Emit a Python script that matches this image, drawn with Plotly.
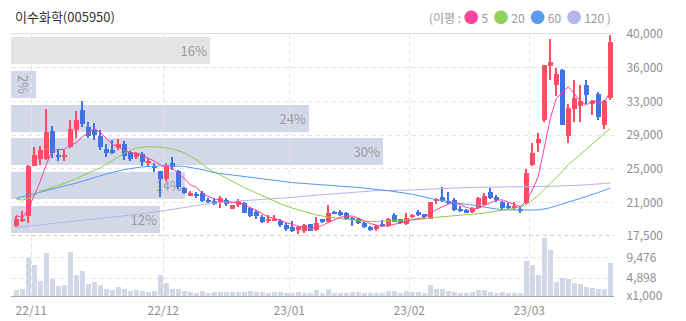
import plotly.graph_objects as go

# ---------------- data ----------------
title_text = "이수화학(005950)"
month_pos = [2.5, 24.5, 45.5, 65.5, 85.5]          # boundary between trading days (index units)
month_labels = ["22/11", "22/12", "23/01", "23/02", "23/03"]

opens = [18650, 19250, 19700, 25350, 26050, 26100, 29250, 26500, 26400, 27400,
         29350, 31500, 29650, 29350, 28650, 27200, 27100, 27300, 27750, 26850,
         26250, 26650, 25650, 25350, 24750, 23850, 25600, 24750, 22850, 22000,
         22150, 22250, 21500, 21450, 21200, 21500, 20550, 20950, 21200, 20650,
         20200, 19650, 19200, 19200, 19150, 18750, 18550, 18250, 18100, 18850,
         18200, 19350, 19100, 20200, 20220, 20050, 19450, 19400, 19000, 18470,
         18250, 18850, 18620, 19850, 19360, 18850, 19600, 20200, 19900, 19450,
         21350, 21900, 21450, 21500, 20400, 20400, 20150, 20600, 21000, 22450,
         21900, 21300, 20850, 20700, 20450, 21150, 25400, 27900, 30450, 36400,
         34350, 36000, 28650, 31700, 32000, 34350, 32250, 33350, 29900, 32900]
highs = [19750, 20300, 25400, 27400, 27500, 31650, 29700, 27200, 27200, 30450,
         31400, 32500, 30250, 30100, 29300, 27700, 28200, 28300, 28100, 27000,
         26850, 26850, 26200, 25600, 24750, 25600, 26250, 24800, 22950, 22550,
         22450, 22550, 21700, 21700, 21950, 21750, 20950, 21600, 21250, 20700,
         20400, 19850, 19850, 19850, 19400, 18900, 19150, 18620, 18850, 18850,
         19600, 19400, 20950, 20330, 20350, 20150, 19650, 19550, 19060, 18620,
         18730, 19300, 19480, 20100, 19450, 20030, 19950, 20350, 20000, 21300,
         21700, 23000, 22400, 21700, 20800, 20500, 20750, 21900, 22300, 22800,
         22100, 21400, 21150, 21300, 20800, 24950, 27850, 29000, 36600, 39400,
         36200, 36100, 32150, 34900, 34350, 34850, 32600, 33500, 32700, 39850]
lows = [18500, 19100, 18900, 25300, 25450, 26000, 26200, 25800, 25900, 27300,
        28400, 29650, 28400, 28200, 27100, 26350, 26600, 27100, 25950, 25900,
        26100, 25250, 25250, 24600, 21900, 23650, 24850, 22750, 22200, 22000,
        21700, 21300, 21150, 20960, 20650, 20850, 20500, 20780, 20030, 19650,
        19400, 18920, 19000, 19200, 18500, 18100, 17950, 17750, 17780, 18050,
        18100, 19000, 19050, 19950, 19700, 19280, 18600, 18850, 18430, 18100,
        18100, 18500, 18550, 19050, 18850, 18730, 19480, 19700, 19450, 19400,
        21100, 21300, 21100, 20300, 20200, 20050, 20100, 20550, 20950, 21650,
        21250, 20550, 20500, 20400, 20050, 21050, 25300, 26900, 30250, 34900,
        33150, 29850, 27850, 30250, 30250, 32150, 31000, 30450, 29400, 32600]
closes = [19400, 19400, 25300, 26550, 27100, 29050, 26700, 26350, 26500, 29400,
          30450, 30000, 28600, 28800, 27450, 26800, 26700, 27750, 26450, 26050,
          26700, 25750, 25800, 25050, 23850, 25250, 25150, 23000, 22300, 22250,
          22050, 21400, 21350, 21070, 21700, 21080, 20900, 21350, 20100, 19750,
          19750, 19100, 19350, 19400, 18750, 18300, 18050, 18450, 18730, 18100,
          19000, 19100, 20050, 20050, 19800, 19400, 19350, 18920, 18480, 18260,
          18620, 18600, 19360, 19100, 18920, 19480, 19850, 19850, 19600, 21250,
          21600, 21450, 21250, 20400, 20300, 20100, 20500, 21700, 22000, 21750,
          21500, 20650, 20600, 20800, 20350, 24500, 26700, 28300, 36500, 36850,
          35600, 29900, 31750, 32900, 32550, 33250, 32550, 30750, 32550, 39100]
volumes = [2140, 2360, 9390, 7750, 4160, 10440, 4610, 3040, 3260, 10670,
           5500, 6400, 3480, 3930, 3260, 2360, 2140, 2810, 2360, 1910,
           2140, 1910, 1690, 1910, 5500, 3710, 2360, 2360, 1910, 1690,
           1470, 1910, 1470, 1690, 1690, 1690, 1690, 1690, 1690, 1910,
           1690, 1690, 1470, 1690, 1690, 1470, 1470, 1690, 1470, 1470,
           2140, 1470, 2360, 1470, 1470, 1470, 1690, 1690, 1470, 1470,
           1470, 1470, 1910, 1910, 1470, 1910, 1690, 1690, 1470, 3260,
           2360, 2360, 1910, 1690, 1470, 1470, 1690, 2140, 2140, 1690,
           1470, 1690, 1470, 1470, 1470, 8650, 7750, 5500, 13810, 11110,
           3930, 4900, 4610, 3710, 3480, 2810, 2590, 2360, 2360, 8200]

ma5 = [19800, 19500, 20500, 22000, 23550, 25480, 26940, 27150, 27140, 27600,
       27880, 28540, 28990, 29450, 29060, 28330, 27670, 27500, 27030, 26750,
       26730, 26540, 26150, 25870, 25430, 25140, 25030, 24460, 23910, 23190,
       22950, 22200, 21870, 21630, 21510, 21320, 21220, 21220, 21030, 20640,
       20370, 20010, 19610, 19470, 19270, 18980, 18770, 18590, 18460, 18330,
       18470, 18680, 19000, 19260, 19600, 19680, 19730, 19500, 19190, 18880,
       18730, 18580, 18660, 18790, 18920, 19090, 19340, 19440, 19540, 20010,
       20430, 20750, 21030, 21190, 21000, 20700, 20510, 20600, 20920, 21210,
       21490, 21520, 21300, 21060, 20780, 21380, 22590, 24130, 27270, 30570,
       32790, 33430, 34120, 33400, 32540, 32070, 32600, 32400, 32330, 33640]

ma20_idx = [0, 1, 2, 4, 6, 8, 10, 12, 14, 16, 18, 20, 22, 24, 26, 28, 30, 32, 34, 36,
            38, 40, 42, 44, 46, 48, 50, 52, 54, 56, 58, 60, 62, 64, 66, 68, 70, 72, 74,
            76, 78, 80, 82, 84, 85, 86, 87, 88, 89, 90, 91, 92, 93, 94, 95, 96, 97, 98, 99]
ma20 = [21600, 21500, 21650, 22500, 22900, 23350, 23900, 24500, 25100, 25900, 26700,
        27300, 27450, 27400, 27200, 26800, 26000, 25000, 24300, 23600, 22900, 22300,
        21700, 21100, 20600, 20200, 19850, 19600, 19450, 19300, 19150, 19100, 19150,
        19250, 19300, 19400, 19600, 19700, 19800, 19900, 20050, 20250, 20450, 20700,
        21000, 21500, 22000, 22700, 23300, 24000, 24700, 25450, 26000, 26600, 27200,
        27800, 28300, 28900, 29500]

ma60_idx = [0, 3, 6, 10, 15, 18, 21, 25, 28, 31, 33, 36, 40, 46, 52, 57, 62, 66, 70,
            73, 76, 80, 82, 87, 89, 92, 95, 97, 99]
ma60 = [21700, 22200, 22700, 23400, 24400, 24900, 25200, 25350, 25250, 24900, 24550,
        24300, 23900, 23450, 23150, 22900, 22550, 22150, 21550, 21200, 20950, 20500,
        20400, 20400, 20650, 21250, 21900, 22350, 22850]

ma120_idx = [0, 5, 10, 15, 20, 24, 28, 32, 36, 42, 46, 50, 55, 60, 65, 70, 75, 80, 85,
             90, 95, 99]
ma120 = [18450, 18800, 19150, 19500, 19900, 20250, 20700, 21100, 21350, 21600, 21800,
         22050, 22300, 22550, 22600, 22750, 22900, 22950, 23000, 23050, 23200, 23400]

# price-volume profile (매물대), rows from top to bottom
profile_mid = [38125, 34375, 30625, 26875, 23125, 19375]
profile_pct = [16, 2, 24, 30, 14, 12]

price_ticks = [17500, 21250, 25000, 28750, 32500, 36250, 40000]
price_ticktext = ["17,500", "21,000", "25,000", "29,000", "33,000", "36,000", "40,000"]
vol_ticks = [904, 4898, 9476]
vol_ticktext = ["x1,000", "4,898", "9,476"]

# ---------------- styling ----------------
FONT = "Noto Sans CJK KR"
RED = "#ff4d63"
BLUE = "#3f74e6"
GRID = "#e6e6e6"
LBL = "#8f8f8f"
PROFILE = "#d3d8e8"
PROFILE_TOP = "#e4e4e4"
VOLC = "#d3d8e8"

n = len(closes)
idx = list(range(n))
up = [c >= o for o, c in zip(opens, closes)]
ccol = [RED if u else BLUE for u in up]
body_base = [min(o, c) for o, c in zip(opens, closes)]
body_h = [abs(c - o) for o, c in zip(opens, closes)]
wick_h = [h - l for h, l in zip(highs, lows)]

xr = [-0.88, 99.62]
pdom = [0.229, 1.0]
vdom = [0.0, 0.229]

fig = go.Figure()

# volume profile bars (own subplot drawn first, below the grid of the candle subplot)
fig.add_trace(go.Bar(
    x=profile_pct, y=profile_mid, orientation="h", width=3000,
    marker=dict(color=[PROFILE_TOP] + [PROFILE] * (len(profile_pct) - 1), line=dict(width=0)),
    text=[f"{p}%" for p in profile_pct], textposition="inside", insidetextanchor="end",
    constraintext="none", textfont=dict(family=FONT, size=13, color="#9a9a9a"),
    xaxis="x", yaxis="y", hoverinfo="skip", showlegend=False))

# moving averages
fig.add_trace(go.Scatter(x=ma120_idx, y=ma120, mode="lines", line=dict(color="#b4b4f0", width=1),
                         xaxis="x2", yaxis="y2", hoverinfo="skip", showlegend=False))
fig.add_trace(go.Scatter(x=ma60_idx, y=ma60, mode="lines", line=dict(color="#5599ee", width=1),
                         xaxis="x2", yaxis="y2", hoverinfo="skip", showlegend=False))
fig.add_trace(go.Scatter(x=ma20_idx, y=ma20, mode="lines", line=dict(color="#8ccc4c", width=1),
                         xaxis="x2", yaxis="y2", hoverinfo="skip", showlegend=False))
fig.add_trace(go.Scatter(x=idx, y=ma5, mode="lines", line=dict(color="#ff3d9a", width=1),
                         xaxis="x2", yaxis="y2", hoverinfo="skip", showlegend=False))

# candles: wicks then bodies
fig.add_trace(go.Bar(x=idx, y=wick_h, base=lows, width=0.17,
                     marker=dict(color=ccol, line=dict(width=0)),
                     xaxis="x2", yaxis="y2", hoverinfo="skip", showlegend=False))
fig.add_trace(go.Bar(x=idx, y=body_h, base=body_base, width=0.8,
                     marker=dict(color=ccol, line=dict(width=0)),
                     xaxis="x2", yaxis="y2", hoverinfo="skip", showlegend=False))

# volume
fig.add_trace(go.Bar(x=idx, y=volumes, width=0.84, marker=dict(color=VOLC, line=dict(width=0)),
                     xaxis="x3", yaxis="y3", hoverinfo="skip", showlegend=False))

dash = "5px,3px"
fig.update_layout(
    width=686, height=321,
    margin=dict(l=11, r=72, t=34, b=25, autoexpand=False),
    paper_bgcolor="white", plot_bgcolor="rgba(0,0,0,0)",
    barmode="overlay", bargap=0,
    font=dict(family=FONT, size=12, color=LBL),
    xaxis=dict(domain=[0, 1], anchor="y", range=[0, 48.6], side="top", automargin=False,
               showline=True, linecolor="#dddddd", linewidth=1,
               showgrid=False, zeroline=False, showticklabels=False, ticks="", fixedrange=True),
    yaxis=dict(domain=pdom, anchor="x", range=[17500, 40000], visible=False, fixedrange=True,
               automargin=False),
    xaxis2=dict(domain=[0, 1], anchor="y2", range=xr, tickmode="array", tickvals=month_pos,
                showticklabels=False, ticks="", showgrid=True, gridcolor=GRID, griddash=dash,
                gridwidth=1, zeroline=False, showline=False, automargin=False),
    yaxis2=dict(domain=pdom, anchor="x2", side="right", range=[17500, 40000], tickmode="array",
                tickvals=price_ticks, ticktext=price_ticktext, showgrid=True, gridcolor=GRID,
                griddash=dash, zeroline=False, ticks="outside", ticklen=9, automargin=False,
                tickcolor="rgba(0,0,0,0)", tickfont=dict(family=FONT, size=12, color=LBL)),
    xaxis3=dict(domain=[0, 1], anchor="y3", range=xr, tickmode="array", tickvals=month_pos,
                ticktext=month_labels, showgrid=True, gridcolor=GRID, griddash=dash,
                zeroline=False, showline=True, linecolor="#a8a8a8", linewidth=1,
                ticks="outside", ticklen=4, tickcolor="rgba(0,0,0,0)", automargin=False,
                tickfont=dict(family=FONT, size=12, color=LBL)),
    yaxis3=dict(domain=vdom, anchor="x3", side="right", range=[904, 14256], tickmode="array",
                tickvals=vol_ticks, ticktext=vol_ticktext, showgrid=True, gridcolor=GRID,
                griddash=dash, zeroline=False, ticks="outside", ticklen=9, automargin=False,
                tickcolor="rgba(0,0,0,0)", tickfont=dict(family=FONT, size=12, color=LBL)),
    shapes=[dict(type="line", xref="paper", x0=0, x1=1, yref="y2", y0=17500, y1=17500,
                 line=dict(color="#9a9a9a", width=1, dash="4px,3px"), layer="above")],
    annotations=[
        dict(text=title_text, xref="paper", yref="paper", x=0.003, y=1.065,
             xanchor="left", yanchor="middle", showarrow=False,
             font=dict(family=FONT, size=13, color="#333333")),
        dict(text="(이평 : <span style='color:#ff45a0;font-size:15px'>●</span> 5  "
                  "<span style='color:#8fd35a;font-size:15px'>●</span> 20  "
                  "<span style='color:#5b9cf0;font-size:15px'>●</span> 60  "
                  "<span style='color:#b4b6f0;font-size:15px'>●</span> 120 )",
             xref="paper", yref="paper", x=0.998, y=1.065, xanchor="right", yanchor="middle",
             showarrow=False, font=dict(family=FONT, size=12, color="#999999")),
    ],
)

fig.write_html("out.html")
